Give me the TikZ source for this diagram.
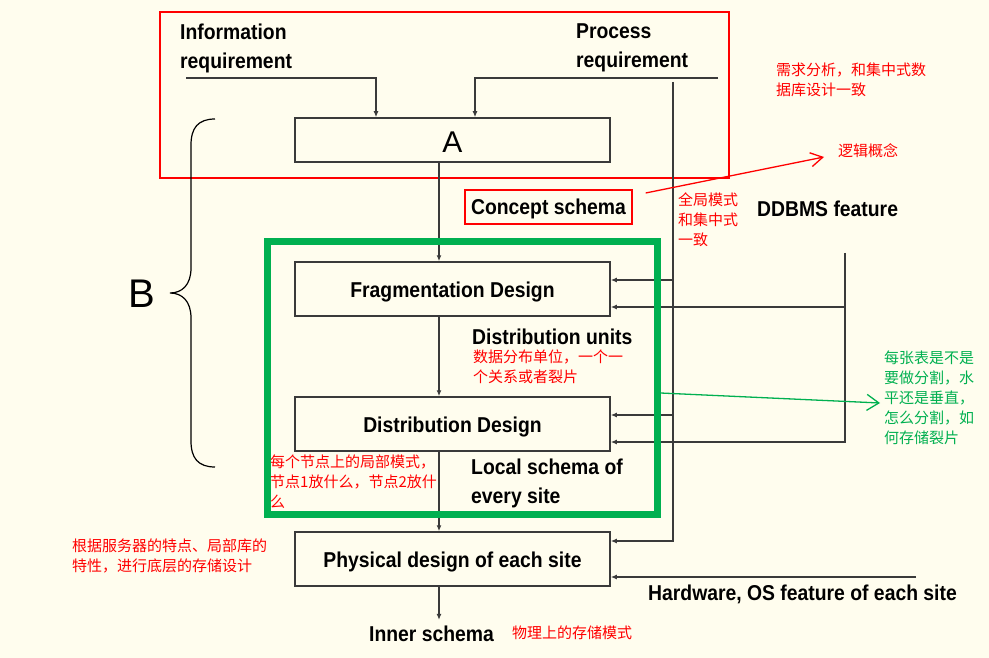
\documentclass[tikz,border=0pt]{standalone}
\usepackage{fontspec}
\setmainfont{Liberation Sans}
\newfontfamily\narrowsans{Liberation Sans}[FakeStretch=0.9]
\newfontfamily\cjk{Noto Sans CJK SC}
\usetikzlibrary{calc,positioning,arrows.meta}
\usepackage{xcolor}
\definecolor{paper}{HTML}{FFFDEE}
\definecolor{ink}{HTML}{3A3A3A}
\definecolor{notered}{HTML}{FF0000}
\definecolor{notegreen}{HTML}{00B050}

\begin{document}
\begin{tikzpicture}[x=1pt,y=-1pt]
\tikzstyle{design}=[draw=ink, line width=1.5pt, minimum width=315pt, minimum height=54pt, inner sep=0pt, text depth=0pt, font=\narrowsans\fontsize{21.5}{29}\selectfont\bfseries]
\tikzstyle{term}=[inner sep=0pt, anchor=west, align=left, font=\narrowsans\fontsize{21.5}{29}\selectfont\bfseries]
\tikzstyle{rednote}=[inner sep=0pt, anchor=west, align=left, text=notered, font=\cjk\fontsize{15}{20}\selectfont]
\tikzstyle{greennote}=[rednote, text=notegreen]
\tikzstyle{flow}=[draw=ink, line width=1.6pt, -{Latex[length=6pt,width=5pt]}]

\fill[paper] (0,0) rectangle (989,658);

% requirements frame and the B brace
\draw[notered, line width=1.3pt] (160,12) rectangle (729,178);
\draw[line width=1.2pt] (215,119) .. controls (198,119) and (191,128) .. (191,145) -- (191,268)
  .. controls (191,285) and (182,293) .. (170,293) .. controls (182,293) and (191,301) .. (191,318)
  -- (191,441) .. controls (191,458) and (198,467) .. (215,467);
\node[font=\fontsize{40}{40}\selectfont, inner sep=0pt] (B) at (142,294) {B};

% design steps
\node[design, minimum height=44pt, font=\fontsize{30}{30}\selectfont] (A) at (452.5,140) {\raisebox{-4pt}{A}};
\node[design] (frag) at (452.5,289) {\raisebox{-1pt}{Fragmentation Design}};
\node[design] (dist) at (452.5,424) {\raisebox{-1pt}{Distribution Design}};
\node[design] (phys) at (452.5,559) {\raisebox{-1pt}{Physical design of each site}};

\node[term] (inforeq) at (180,48) {Information\\requirement};
\node[term] (procreq) at (576,48) {Process\\requirement};
\node[draw=notered, line width=1.3pt, minimum width=167pt, minimum height=34pt, inner sep=0pt, text depth=0pt, font=\narrowsans\fontsize{21.5}{29}\selectfont\bfseries] (concept) at (548.5,207) {Concept schema};
\node[term] (ddbms) at (757,209) {DDBMS feature};
\node[term] (units) at (472,337) {Distribution units};
\node[term] (localsch) at (471,483) {Local schema of\\every site};
\node[term] (hw) at (648,594) {Hardware, OS feature of each site};
\node[term] (inner) at (369,634) {Inner schema};

% notes
\node[rednote] (needs) at (776,79.5) {需求分析，和集中式数\\据库设计一致};
\node[rednote] (logic) at (838,151) {逻辑概念};
\node[rednote] (globalsch) at (678,220) {全局模式\\和集中式\\一致};
\node[rednote] (unitnote) at (473,367) {数据分布单位，一个一\\个关系或者裂片};
\node[rednote] (sitenote) at (270,482) {每个节点上的局部模式，\\节点1放什么，节点2放什\\么};
\node[rednote] (physnote) at (72,555.5) {根据服务器的特点、局部库的\\特性，进行底层的存储设计};
\node[rednote] (innernote) at (512,633) {物理上的存储模式};
\node[greennote] (splitnote) at (884,397.5) {每张表是不是\\要做分割，水\\平还是垂直，\\怎么分割，如\\何存储裂片};

% connectors
\coordinate (spine) at (439,0);
\coordinate (infoL) at (186,78);
\coordinate (procR) at (718,78);
\coordinate (trunk) at (673,82);
\coordinate (feat) at (845,253);
\coordinate (hwR) at (916,577);
\foreach \u/\v in {A/frag,frag/dist,dist/phys}{\draw[flow] (\u.south -| spine) -- (\v.north -| spine);}
\draw[flow, shorten >=6pt] (phys.south -| spine) -- (inner.north -| spine);
\draw[flow] (infoL) -| ([xshift=-76.5pt]A.north);
\draw[flow] (procR) -| ([xshift=22.5pt]A.north);
\foreach \b/\d in {frag/-9,dist/-9,phys/-18}{\coordinate (t\b) at ($(\b.east)+(0,\d)$);}
\foreach \b in {frag,dist}{\coordinate (f\b) at ($(\b.east)+(0,18)$);}
\draw[flow] (trunk) |- (tphys);
\draw[flow] (trunk |- tfrag) -- (tfrag);
\draw[flow] (trunk |- tdist) -- (tdist);
\draw[flow] (feat) |- (fdist);
\draw[flow] (feat |- ffrag) -- (ffrag);
\draw[flow] (hwR) -- (hwR -| phys.east);

% distribution design frame
\node[draw=notegreen, line width=7pt, minimum width=390pt, minimum height=272pt] (greenbox) at (462,378) {};

\draw[notered, line width=1.3pt, -{Straight Barb[length=12pt,width=14pt]}] ([xshift=13pt,yshift=14pt]concept.east) -- ([xshift=-14pt,yshift=-6pt]logic.west);
\draw[notegreen, line width=1.3pt, -{Straight Barb[length=12pt,width=16pt]}] ([yshift=-15pt]greenbox.east) -- ([xshift=-4pt,yshift=-5.5pt]splitnote.west);
\end{tikzpicture}
\end{document}
